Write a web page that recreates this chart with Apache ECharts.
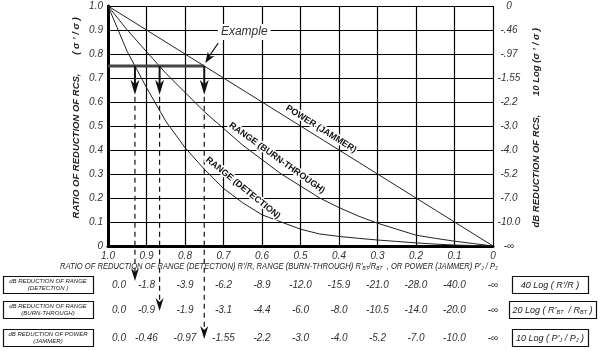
<!DOCTYPE html>
<html>
<head>
<meta charset="utf-8">
<script src="https://cdn.jsdelivr.net/npm/echarts@6/dist/echarts.min.js"></script>
<style>
html, body { margin: 0; padding: 0; background: #fff; }
#main { width: 598px; height: 351px; }
</style>
</head>
<body>
<div id="main"></div>
<script>
// horizontal scale: R'/R, R'bt/Rbt or P'j/Pj
const ratioValues = [1.0, 0.95, 0.9, 0.85, 0.8, 0.75, 0.7, 0.65, 0.6, 0.55, 0.5, 0.45, 0.4, 0.35, 0.3, 0.25, 0.2, 0.15, 0.1, 0.05, 0.0]
// sigma'/sigma
const powerRcs = [1.0, 0.95, 0.9, 0.85, 0.8, 0.75, 0.7, 0.65, 0.6, 0.55, 0.5, 0.45, 0.4, 0.35, 0.3, 0.25, 0.2, 0.15, 0.1, 0.05, 0.0]
const burnRcs = [1.0, 0.90, 0.81, 0.72, 0.64, 0.56, 0.49, 0.42, 0.36, 0.30, 0.25, 0.20, 0.16, 0.125, 0.095, 0.07, 0.045, 0.032, 0.02, 0.01, 0.0]
const detectRcs = [1.0, 0.81, 0.66, 0.52, 0.41, 0.32, 0.24, 0.18, 0.13, 0.10, 0.07, 0.05, 0.04, 0.032, 0.025, 0.019, 0.013, 0.008, 0.004, 0.002, 0.0]

// tick labels, indexed by value * 10
const xTickLabels = ['0', '0.1', '0.2', '0.3', '0.4', '0.5', '0.6', '0.7', '0.8', '0.9', '1.0']
const yTickLabels = ['0', '0.1', '0.2', '0.3', '0.4', '0.5', '0.6', '0.7', '0.8', '0.9', '1.0']
const dbRcsLabels = ['-\u221e', '-10.0', '-7.0', '-5.2', '-4.0', '-3.0', '-2.2', '-1.55', '-.97', '-.46', '0']

// table under the chart, one column per x tick (1.0 ... 0)
const tableTicks = [1.0, 0.9, 0.8, 0.7, 0.6, 0.5, 0.4, 0.3, 0.2, 0.1, 0.0]
const dbRangeDetect = ['0.0', '-1.8', '-3.9', '-6.2', '-8.9', '-12.0', '-15.9', '-21.0', '-28.0', '-40.0', '-\u221e']
const dbRangeBurn = ['0.0', '-0.9', '-1.9', '-3.1', '-4.4', '-6.0', '-8.0', '-10.5', '-14.0', '-20.0', '-\u221e']
const dbPower = ['0.0', '-0.46', '-0.97', '-1.55', '-2.2', '-3.0', '-4.0', '-5.2', '-7.0', '-10.0', '-\u221e']

// worked example: sigma'/sigma = 0.75
const exampleRcs = 0.75
const exampleRatios = [0.93, 0.866, 0.75]
const exampleArrowEnd = 0.63

const FONT = 'Liberation Sans, Arial, Helvetica, sans-serif'
const INK = '#222'

const chart = echarts.init(document.getElementById('main'))

const pairs = (ys) => ratioValues.map((r, i) => [r, ys[i]])

const option = {
  animation: false,
  backgroundColor: '#fff',
  grid: { left: 108, right: 105, top: 6, bottom: 105 },
  xAxis: {
    type: 'value',
    min: 0,
    max: 1,
    interval: 0.1,
    inverse: true,
    axisLine: { show: true, onZero: false, lineStyle: { color: '#000', width: 3 } },
    axisTick: { show: false },
    splitLine: { show: true, lineStyle: { color: '#000', width: 1.2 } },
    axisLabel: {
      margin: 5,
      color: '#333',
      fontStyle: 'italic',
      fontSize: 10,
      fontFamily: FONT,
      formatter: (v) => xTickLabels[Math.round(v * 10)]
    }
  },
  yAxis: [
    {
      type: 'value',
      min: 0,
      max: 1,
      interval: 0.1,
      position: 'left',
      axisLine: { show: true, onZero: false, lineStyle: { color: '#000', width: 3 } },
      axisTick: { show: false },
      splitLine: { show: true, lineStyle: { color: '#000', width: 1.2 } },
      axisLabel: {
        margin: 5,
        color: '#333',
        fontStyle: 'italic',
        fontSize: 10,
        fontFamily: FONT,
        formatter: (v) => yTickLabels[Math.round(v * 10)]
      }
    },
    {
      type: 'value',
      min: 0,
      max: 1,
      interval: 0.1,
      position: 'right',
      axisLine: { show: false },
      axisTick: { show: false },
      splitLine: { show: false },
      axisLabel: {
        margin: 16,
        align: 'center',
        color: '#333',
        fontStyle: 'italic',
        fontSize: 10,
        fontFamily: FONT,
        formatter: (v) => dbRcsLabels[Math.round(v * 10)]
      }
    }
  ],
  series: [
    {
      name: 'POWER (JAMMER)',
      type: 'line',
      data: pairs(powerRcs),
      symbol: 'none',
      lineStyle: { color: INK, width: 1 },
      z: 3
    },
    {
      name: 'RANGE (BURN-THROUGH)',
      type: 'line',
      data: pairs(burnRcs),
      symbol: 'none',
      lineStyle: { color: INK, width: 1 },
      z: 3
    },
    {
      name: 'RANGE (DETECTION)',
      type: 'line',
      data: pairs(detectRcs),
      symbol: 'none',
      lineStyle: { color: INK, width: 1 },
      z: 3
    },
    {
      // example level line
      type: 'line',
      data: [[1.0, exampleRcs], [exampleRatios[2], exampleRcs]],
      symbol: 'none',
      lineStyle: { color: '#444', width: 3 },
      z: 4
    }
  ]
}
chart.setOption(option)

const px = (x, y) => chart.convertToPixel({ seriesIndex: 0 }, [x, y])

// arrow head polygon, tip at (x, y), pointing along (dx, dy)
function arrowHead (x, y, dx, dy, len, half) {
  const l = Math.sqrt(dx * dx + dy * dy)
  const ux = dx / l
  const uy = dy / l
  const nx = -uy
  const ny = ux
  return {
    type: 'polygon',
    z: 50,
    shape: {
      points: [
        [x, y],
        [x - ux * len + nx * half, y - uy * len + ny * half],
        [x - ux * len * 0.7, y - uy * len * 0.7],
        [x - ux * len - nx * half, y - uy * len - ny * half]
      ]
    },
    style: { fill: '#111' }
  }
}

function label (text, x, y, opts) {
  return Object.assign({
    type: 'text',
    x: x,
    y: y,
    z: 60,
    style: Object.assign({
      text: text,
      fill: INK,
      font: 'italic 10px ' + FONT,
      align: 'center',
      verticalAlign: 'middle'
    }, opts.style || {})
  }, opts.el || {})
}

const g = []

// example arrows: solid part inside, dashed down into the table
const arrowStops = [281, 311, 339]
exampleRatios.forEach((r, i) => {
  const top = px(r, exampleRcs)
  const tip = px(r, exampleArrowEnd)
  g.push({ type: 'line', z: 45, shape: { x1: top[0], y1: top[1], x2: tip[0], y2: tip[1] - 6 }, style: { stroke: '#111', lineWidth: 2 } })
  g.push(arrowHead(tip[0], tip[1], 0, 1, 15, 4.5))
  g.push({ type: 'line', z: 45, shape: { x1: tip[0], y1: tip[1] + 2, x2: tip[0], y2: arrowStops[i] - 6 }, style: { stroke: '#111', lineWidth: 1.2, lineDash: [5, 4] } })
  g.push(arrowHead(tip[0], arrowStops[i], 0, 1, 13, 4))
})

// "Example" callout
const ex = px(exampleRatios[2], exampleRcs)
g.push(label('Example', ex[0] + 40, 32, { style: { font: 'italic 12px ' + FONT, fill: '#333', backgroundColor: '#fff', padding: [2, 3] } }))
g.push({ type: 'line', z: 45, shape: { x1: ex[0] + 14, y1: ex[1] - 23, x2: ex[0] + 3, y2: ex[1] - 7 }, style: { stroke: '#111', lineWidth: 1.2 } })
g.push(arrowHead(ex[0] + 1, ex[1] - 3, -11, 17, 11, 4))

// curve names along the lines
const curveText = { font: 'bold 9px ' + FONT, fill: '#111', stroke: '#fff', lineWidth: 3 }
g.push(label('POWER (JAMMER)', 321, 129, { style: curveText, el: { rotation: -0.56 } }))
g.push(label('RANGE (BURN-THROUGH)', 277, 158, { style: curveText, el: { rotation: -0.62 } }))
g.push(label('RANGE (DETECTION)', 243, 188, { style: curveText, el: { rotation: -0.68 } }))

// axis titles
const titleFont = 'italic bold 9.5px ' + FONT
g.push(label('RATIO OF REDUCTION OF RCS,', 76, 146, { style: { font: titleFont }, el: { rotation: Math.PI / 2 } }))
g.push(label('( \u03c3 \u2019 / \u03c3 )', 76, 36, { style: { font: titleFont }, el: { rotation: Math.PI / 2 } }))
g.push(label('dB REDUCTION OF RCS,', 536, 171, { style: { font: titleFont }, el: { rotation: Math.PI / 2 } }))
g.push(label('10 Log (\u03c3 \u2019 / \u03c3 )', 536, 62, { style: { font: titleFont }, el: { rotation: Math.PI / 2 } }))

const sub = { fontSize: 6, fontStyle: 'italic', fontFamily: FONT, verticalAlign: 'bottom', padding: [4, 0, 0, 0] }
g.push({
  type: 'text',
  x: 60,
  y: 266,
  z: 60,
  scaleX: 0.8,
  style: {
    text: 'RATIO OF REDUCTION OF RANGE (DETECTION) R\u2019/R, RANGE (BURN-THROUGH) R\u2019{s|BT}/R{s|BT}  , OR POWER (JAMMER) P\u2019{s|J} / P{s|J}',
    font: 'italic 9.5px ' + FONT,
    fill: INK,
    align: 'left',
    verticalAlign: 'middle',
    rich: { s: sub }
  }
})

// table
const rows = [
  { y: 285, values: dbRangeDetect, left: 'dB REDUCTION OF RANGE\n(DETECTION )', right: '40 Log ( R\u2019/R )', box: [512, 76] },
  { y: 310, values: dbRangeBurn, left: 'dB REDUCTION OF RANGE\n(BURN-THROUGH)', right: '20 Log ( R\u2019{s|BT}  / R{s|BT} )', box: [509, 87] },
  { y: 338, values: dbPower, left: 'dB REDUCTION OF POWER\n(JAMMER)', right: '10 Log ( P\u2019{s|J} / P{s|J} )', box: [512, 76] }
]
rows.forEach((row) => {
  g.push({ type: 'rect', z: 40, shape: { x: 3.5, y: row.y - 8.5, width: 90, height: 17 }, style: { fill: '#fff', stroke: '#111', lineWidth: 1.2 } })
  g.push(label(row.left, 48, row.y, { style: { font: 'italic 6px ' + FONT, lineHeight: 7 } }))
  g.push({ type: 'rect', z: 40, shape: { x: row.box[0] + 0.5, y: row.y - 8.5, width: row.box[1], height: 17 }, style: { fill: '#fff', stroke: '#111', lineWidth: 1.2 } })
  g.push(label(row.right, row.box[0] + row.box[1] / 2, row.y, { style: { font: 'italic 9px ' + FONT, rich: { s: Object.assign({}, sub, { fontSize: 5.5 }) } } }))
  tableTicks.forEach((t, i) => {
    const cx = px(t, 0)[0] + (i === 0 ? 11 : 0)
    g.push(label(row.values[i], cx, row.y, { style: { font: 'italic 10px ' + FONT, fill: '#333' } }))
  })
})

chart.setOption({ graphic: { elements: g } })
</script>
</body>
</html>
